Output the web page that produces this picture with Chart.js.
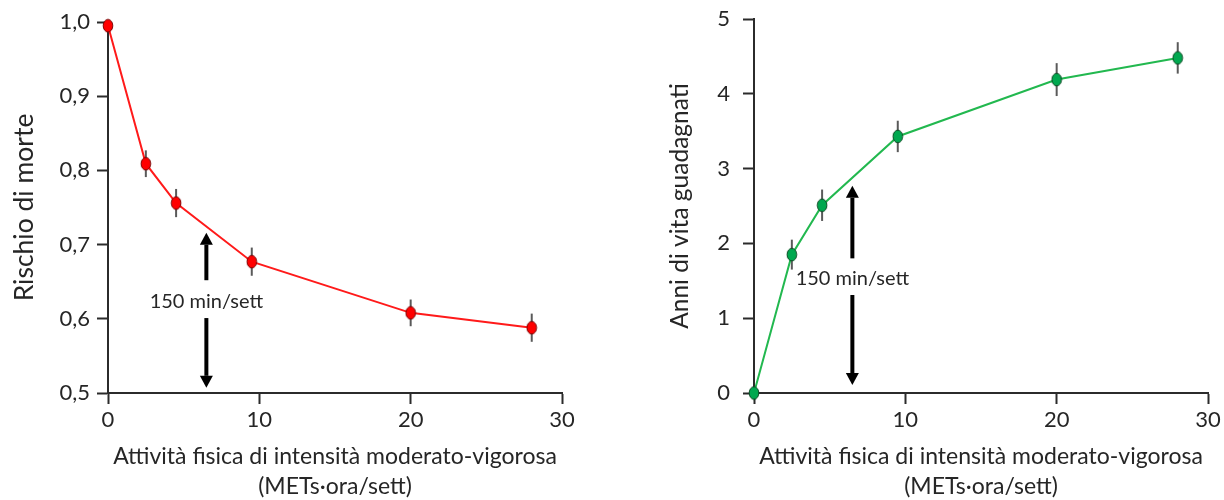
<!DOCTYPE html>
<html lang="it">
<head>
<meta charset="utf-8">
<script src="https://cdn.jsdelivr.net/npm/chart.js@4.4.1/dist/chart.umd.min.js"></script>
<style>
  body { margin: 0; background: #fff; }
  #left { position: absolute; left: 0; top: 0; }
  #right { position: absolute; left: 600px; top: 0; }
</style>
</head>
<body>
<canvas id="left" width="600" height="500"></canvas>
<canvas id="right" width="624" height="500"></canvas>
<script>
// data
const activity = [0, 2.5, 4.5, 9.5, 20, 28];
const deathRisk = [0.995, 0.809, 0.756, 0.677, 0.608, 0.588];
const deathRiskErr = [0, 0.018, 0.019, 0.019, 0.018, 0.019];
const yearsGained = [0, 1.85, 2.51, 3.43, 4.19, 4.48];
const yearsGainedErr = [0, 0.2, 0.21, 0.21, 0.22, 0.21];
const xTicks = [0, 10, 20, 30];
const riskTicks = [0.5, 0.6, 0.7, 0.8, 0.9, 1.0];
const yearsTicks = [0, 1, 2, 3, 4, 5];
// 150 min/sett marker: x, up arrow (from, to), down arrow (from, to), label y
const riskArrow = [6.5, 0.652, 0.716, 0.601, 0.507, 0.623];
const yearsArrow = [6.5, 1.80, 2.77, 1.31, 0.107, 1.53];

const FONT = 'Lato';
const INK = '#262626';
const AXIS = '#2b2b2b';

// ellipse shaped markers like the original
const ellipsePoint = (fill, stroke) => {
  const c = document.createElement('canvas');
  c.width = 12; c.height = 15;
  const g = c.getContext('2d');
  g.beginPath();
  g.ellipse(6, 7.5, 4.8, 6.3, 0, 0, Math.PI * 2);
  g.fillStyle = fill;
  g.fill();
  g.lineWidth = 1;
  g.strokeStyle = stroke;
  g.stroke();
  return c;
};

const errorBars = {
  id: 'errorBars',
  beforeDatasetsDraw(chart, args, opts) {
    const { ctx, scales: { x, y } } = chart;
    const pts = chart.data.datasets[0].data;
    ctx.save();
    ctx.strokeStyle = '#5a5a5a';
    ctx.lineWidth = 2;
    pts.forEach((p, i) => {
      const e = opts.values[i];
      if (!e) return;
      const px = x.getPixelForValue(p.x);
      ctx.beginPath();
      ctx.moveTo(px, y.getPixelForValue(p.y - e));
      ctx.lineTo(px, y.getPixelForValue(p.y + e));
      ctx.stroke();
    });
    ctx.restore();
  }
};

const drawArrow = (ctx, x, y0, y1) => {
  const dir = Math.sign(y1 - y0);
  const head = 12, half = 6.5;
  ctx.beginPath();
  ctx.moveTo(x, y0);
  ctx.lineTo(x, y1 - dir * head);
  ctx.stroke();
  ctx.beginPath();
  ctx.moveTo(x, y1);
  ctx.lineTo(x - half, y1 - dir * head);
  ctx.lineTo(x + half, y1 - dir * head);
  ctx.closePath();
  ctx.fill();
};

const marker = {
  id: 'marker',
  afterDatasetsDraw(chart, args, opts) {
    const { ctx, scales: { x, y } } = chart;
    const [mx, u0, u1, d0, d1, ly] = opts.arrow;
    const px = x.getPixelForValue(mx);
    ctx.save();
    ctx.strokeStyle = '#000';
    ctx.fillStyle = '#000';
    ctx.lineWidth = 4;
    drawArrow(ctx, px, y.getPixelForValue(u0), y.getPixelForValue(u1));
    drawArrow(ctx, px, y.getPixelForValue(d0), y.getPixelForValue(d1));
    ctx.font = '20px ' + FONT;
    ctx.fillStyle = INK;
    ctx.textAlign = 'center';
    ctx.textBaseline = 'middle';
    ctx.fillText('150 min/sett', px + opts.labelShift, y.getPixelForValue(ly));
    ctx.restore();
  }
};

const axisStyle = {
  border: { display: true, color: AXIS, width: 2 },
  grid: { display: true, drawOnChartArea: false, drawTicks: true, tickLength: 11, tickWidth: 2, tickColor: AXIS },
};

const buildChart = (id, cfg) => new Chart(document.getElementById(id), {
  type: 'line',
  data: {
    datasets: [{
      data: activity.map((v, i) => ({ x: v, y: cfg.values[i] })),
      borderColor: cfg.color,
      borderWidth: 2,
      pointStyle: ellipsePoint(cfg.pointFill, cfg.pointStroke),
      pointRadius: 6,
      tension: 0,
      clip: false,
    }]
  },
  options: {
    responsive: false,
    animation: false,
    layout: { padding: { top: cfg.top, right: cfg.right, bottom: 0, left: 0 } },
    plugins: {
      legend: { display: false },
      tooltip: { enabled: false },
      errorBars: { values: cfg.errors },
      marker: { arrow: cfg.arrow, labelShift: cfg.labelShift },
    },
    scales: {
      x: {
        type: 'linear',
        min: 0,
        max: 30,
        ...axisStyle,
        afterBuildTicks: s => { s.ticks = xTicks.map(v => ({ value: v })); },
        afterFit: s => { s.height = 107; },
        ticks: { color: INK, padding: 3, font: { family: FONT, size: 22 } },
        title: {
          display: true,
          text: ['Attività fisica di intensità moderato-vigorosa', '(METs·ora/sett)'],
          color: INK,
          font: { family: FONT, size: 23, lineHeight: 30 / 23 },
          padding: { top: 0, bottom: -2 },
        },
      },
      y: {
        type: 'linear',
        min: cfg.yTicks[0],
        max: cfg.yTicks[cfg.yTicks.length - 1],
        ...axisStyle,
        afterBuildTicks: s => { s.ticks = cfg.yTicks.map(v => ({ value: v })); },
        afterFit: s => {
          s.width = cfg.yWidth;
          s.paddingTop = 10;
          s.paddingBottom = 10;
        },
        ticks: {
          color: INK,
          padding: cfg.tickPad,
          font: { family: FONT, size: 22 },
          callback: cfg.fmt,
        },
        title: {
          display: true,
          text: cfg.yTitle,
          color: INK,
          font: { family: FONT, size: cfg.titleSize },
          padding: { top: cfg.titlePad, bottom: 0 },
        },
      },
    },
  },
  plugins: [errorBars, marker],
});

buildChart('left', {
  values: deathRisk,
  errors: deathRiskErr,
  arrow: riskArrow,
  labelShift: 0,
  color: '#ff1a1a',
  pointFill: '#ff0000',
  pointStroke: '#7a0000',
  yTicks: riskTicks,
  fmt: v => v.toFixed(1).replace('.', ','),
  yTitle: 'Rischio di morte',
  titleSize: 26.5,
  yWidth: 108,
  tickPad: 7,
  titlePad: 9,
  top: 22,
  right: 38,
});

buildChart('right', {
  values: yearsGained,
  errors: yearsGainedErr,
  arrow: yearsArrow,
  labelShift: 0,
  color: '#22b84f',
  pointFill: '#00a84f',
  pointStroke: '#0b4a22',
  yTicks: yearsTicks,
  fmt: v => String(v),
  yTitle: 'Anni di vita guadagnati',
  titleSize: 24.5,
  yWidth: 154,
  tickPad: 13,
  titlePad: 65,
  top: 19,
  right: 16,
});
</script>
</body>
</html>
